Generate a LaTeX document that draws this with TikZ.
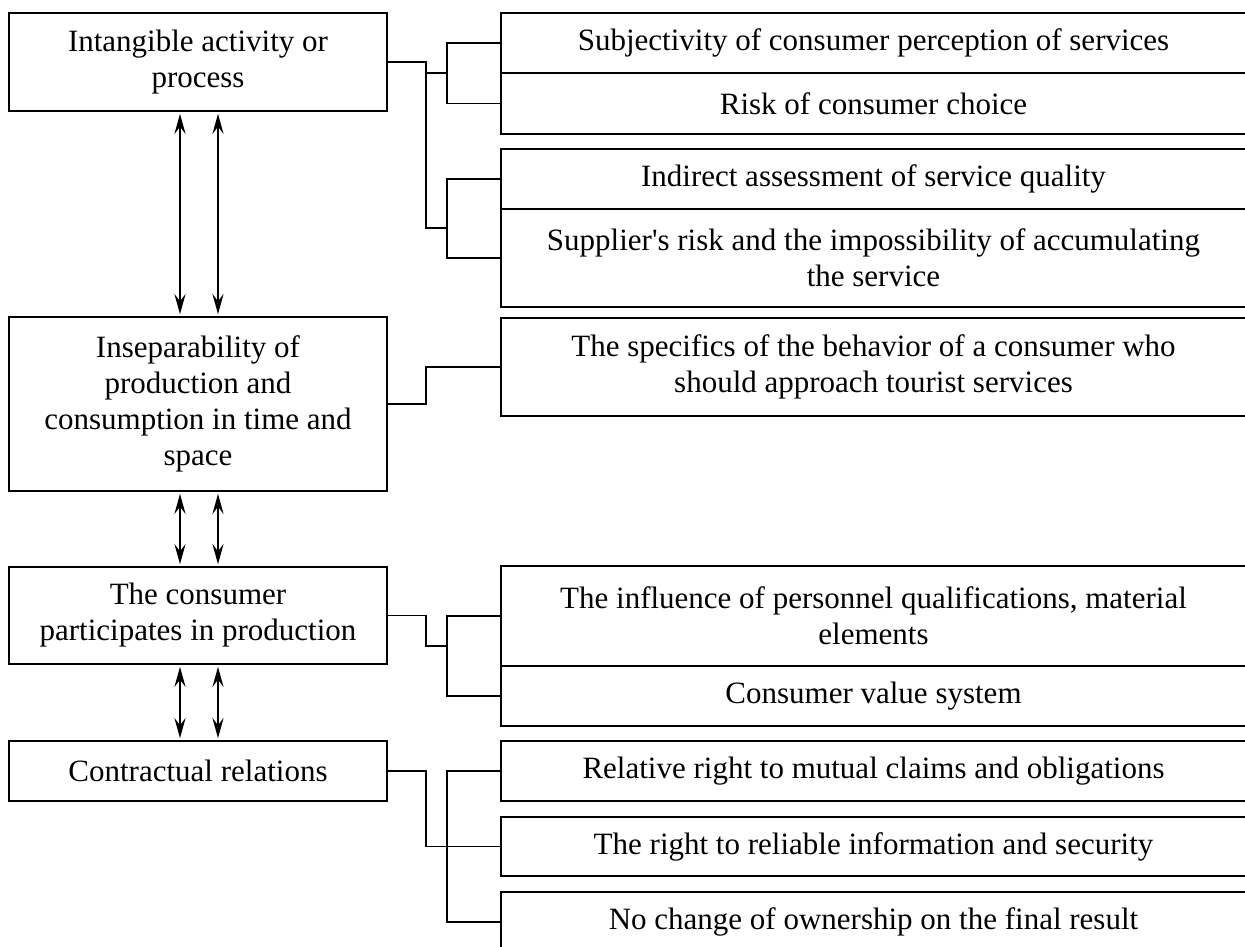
\documentclass[tikz,border=0pt]{standalone}
\usepackage{fontspec}
\setmainfont{Liberation Serif}
\usepackage{tikz}
\usetikzlibrary{arrows.meta,positioning}

\begin{document}
\begin{tikzpicture}[x=1pt,y=-1pt,line width=1.6pt,font=\fontsize{31}{36}\selectfont]
    \tikzstyle{box}=[draw,rectangle,inner sep=0pt,align=center];
    \tikzstyle{left box}=[box,minimum width=378pt];
    \tikzstyle{right box}=[box,minimum width=745pt];
    \tikzstyle{both ways}=[{Stealth[length=20pt,width=11pt,inset=7pt]}-{Stealth[length=20pt,width=11pt,inset=7pt]},line width=2.2pt,shorten <=2pt,shorten >=2pt];

    \useasboundingbox (0,0) rectangle (1245,947);

    % Draw the properties on the left
    \node[left box,minimum height=98pt] (L1) at (198,62) {Intangible activity or\\process};
    \node[left box,minimum height=174pt] (L2) at (198,404) {Inseparability of\\production and\\consumption in time and\\space};
    \node[left box,minimum height=97pt] (L3) at (198,615.5) {The consumer\\participates in production};
    \node[left box,minimum height=60pt] (L4) at (198,771) {Contractual relations};

    % Draw the consequences on the right
    \foreach \name/\y/\h/\txt in {
        R1/43/60/{Subjectivity of consumer perception of services},
        R2/103.5/61/{Risk of consumer choice},
        R3/179/60/{Indirect assessment of service quality},
        R4/258/98/{Supplier\textquotesingle s risk and the impossibility of accumulating\\the service},
        R5/367/98/{The specifics of the behavior of a consumer who\\should approach tourist services},
        R6/616/100/{The influence of personnel qualifications, material\\elements},
        R7/696/60/{Consumer value system},
        R8/771/60/{Relative right to mutual claims and obligations},
        R9/846.5/59/{The right to reliable information and security},
        R10/922/60/{No change of ownership on the final result}}
    \node[right box,minimum height=\h pt] (\name) at (873.5,\y) {\txt};

    % Brackets in front of the groups
    \draw (R1.west) -- ++(-53,0) |- (R2.west);
    \draw (R3.west) -- ++(-53,0) |- (R4.west);
    \draw (R6.west) -- ++(-53,0) |- (R7.west);
    \draw (R8.west) -- ++(-53,0) |- (R10.west);
    \coordinate (J1) at (448,73);
    \coordinate (J2) at (448,228);
    \coordinate (J3) at (448,646);

    % Connect every property with its group
    \draw (L1.east) -- ++(38,0) |- (J1);
    \draw (L1.east) -- ++(38,0) |- (J2);
    \draw (L2.east) -- ++(38,0) |- (R5.west);
    \draw (L3.east) -- ++(38,0) |- (J3);
    \draw (L4.east) -- ++(38,0) |- (R9.west);

    % Two way arrows between the properties
    \foreach \a/\b in {L1/L2,L2/L3,L3/L4}
    \foreach \dx in {-18,20}
    \draw[both ways] ([xshift=\dx pt]\a.south) -- ([xshift=\dx pt]\b.north);
\end{tikzpicture}
\end{document}
